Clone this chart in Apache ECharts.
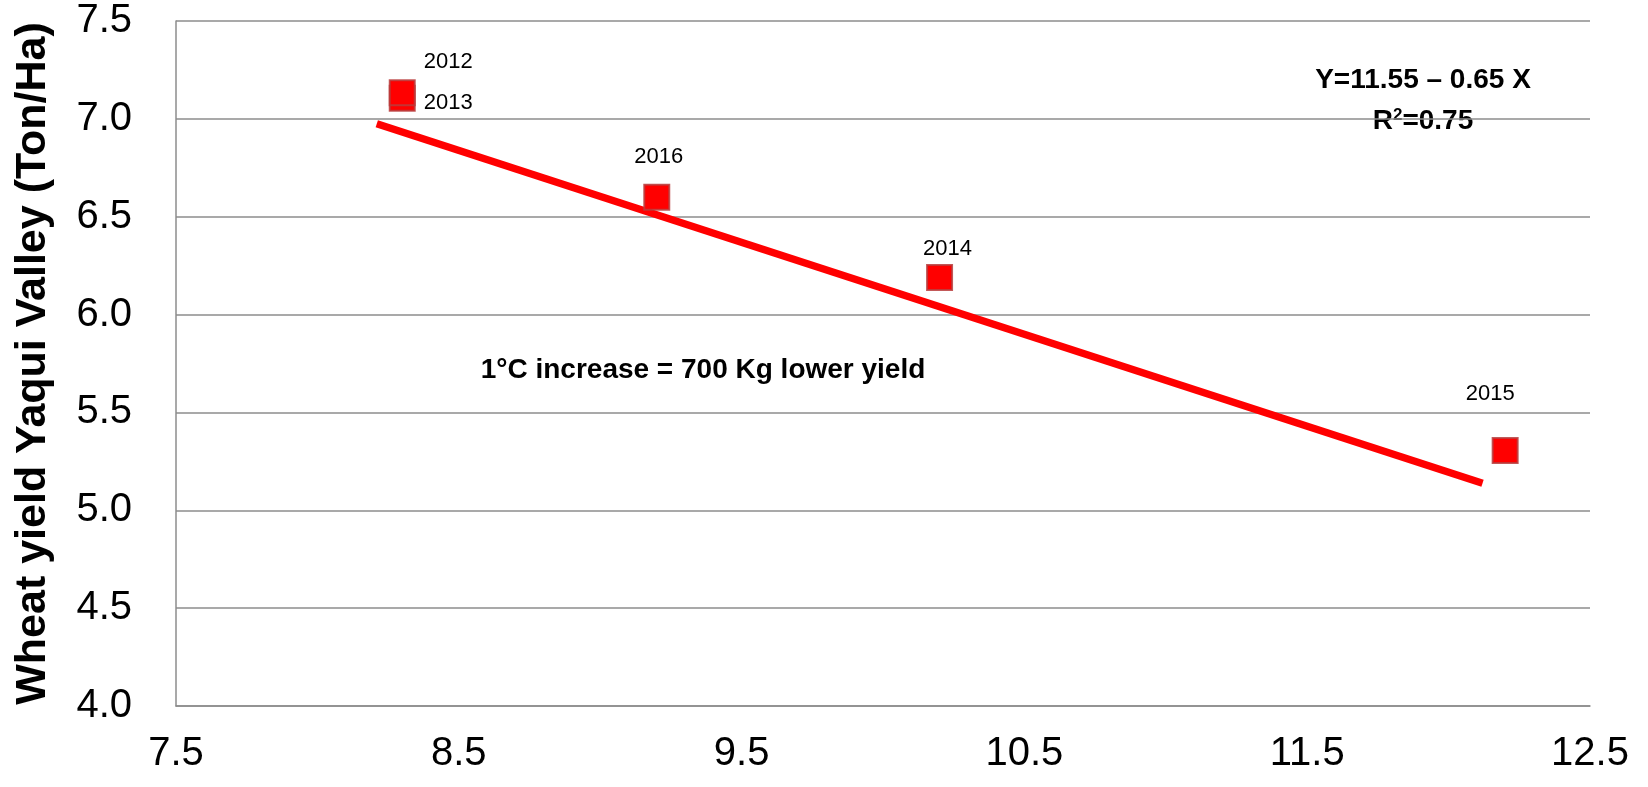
<!DOCTYPE html>
<html>
<head>
<meta charset="utf-8">
<script src="https://cdn.jsdelivr.net/npm/echarts@6/dist/echarts.min.js"></script>
<style>
html,body{margin:0;padding:0;background:#fff;}
#chart{width:1648px;height:787px;}
</style>
</head>
<body>
<div id="chart"></div>
<script>
// ---- data ----
const years = ['2013', '2012', '2016', '2014', '2015'];
const tempX = [8.30, 8.30, 9.20, 10.20, 12.20];
const yieldY = [7.105, 7.133, 6.60, 6.19, 5.305];
const trendX = [8.21, 12.12];
const trendY = [6.975, 5.138];
const xTicks = [7.5, 8.5, 9.5, 10.5, 11.5, 12.5];
const yTicks = [4.0, 4.5, 5.0, 5.5, 6.0, 6.5, 7.0, 7.5];
const yAxisTitle = 'Wheat yield Yaqui Valley (Ton/Ha)';
const equationText = 'Y=11.55 \u2013 0.65 X';
const r2Value = '0.75';
const noteText = '1\u00B0C increase = 700 Kg lower yield';

// ---- style (label placement per year) ----
const labelOffset = {
  '2012': [46, -31],
  '2013': [46, 5],
  '2016': [2, -40],
  '2014': [8, -28],
  '2015': [-15, -57]
};

const FONT = '"Liberation Sans", Arial, sans-serif';
const chart = echarts.init(document.getElementById('chart'), null, {renderer: 'canvas'});

const scatterData = years.map((yr, i) => ({
  value: [tempX[i], yieldY[i]],
  name: yr,
  label: {
    show: true,
    position: 'inside',
    offset: labelOffset[yr],
    formatter: yr,
    color: '#000',
    fontSize: 22,
    fontFamily: FONT
  }
}));

const option = {
  animation: false,
  backgroundColor: '#fff',
  grid: {left: 176, right: 58, top: 21, bottom: 81, containLabel: false, outerBoundsMode: 'none'},
  xAxis: {
    type: 'value',
    min: xTicks[0],
    max: xTicks[xTicks.length - 1],
    interval: 1,
    axisLine: {show: true, onZero: false, lineStyle: {color: '#8c8c8c', width: 1.5}},
    axisTick: {show: false},
    splitLine: {show: false},
    axisLabel: {
      customValues: xTicks,
      formatter: v => Number(v).toFixed(1),
      color: '#000',
      fontSize: 40,
      fontFamily: FONT,
      margin: 28
    }
  },
  yAxis: {
    type: 'value',
    min: yTicks[0],
    max: yTicks[yTicks.length - 1],
    interval: 0.5,
    name: yAxisTitle,
    nameLocation: 'middle',
    nameGap: 121,
    nameMoveOverlap: false,
    nameRotate: 90,
    nameTextStyle: {color: '#000', fontSize: 43, fontWeight: 'bold', fontFamily: FONT},
    axisLine: {show: true, onZero: false, lineStyle: {color: '#8c8c8c', width: 1.5}},
    axisTick: {show: false},
    splitLine: {show: true, lineStyle: {color: '#8c8c8c', width: 1.5}},
    axisLabel: {
      formatter: v => Number(v).toFixed(1),
      color: '#000',
      fontSize: 40,
      fontFamily: FONT,
      margin: 44
    }
  },
  series: [
    {
      type: 'line',
      data: trendX.map((x, i) => [x, trendY[i]]),
      showSymbol: false,
      symbol: 'none',
      lineStyle: {color: '#ff0000', width: 7.5, cap: 'butt'},
      z: 2,
      silent: true
    },
    {
      type: 'scatter',
      data: scatterData,
      symbol: 'rect',
      symbolSize: 25,
      itemStyle: {color: '#ff0000', borderColor: 'rgba(185,60,60,0.85)', borderWidth: 2, opacity: 1},
      z: 3
    }
  ],
  graphic: [
    {
      type: 'text',
      x: 1423, y: 80,
      style: {
        text: equationText,
        font: 'bold 28px ' + FONT,
        fill: '#000',
        align: 'center',
        verticalAlign: 'middle'
      }
    },
    {
      type: 'text',
      x: 1423, y: 121,
      style: {
        text: '{b|R}{s|2}{b|=' + r2Value + '}',
        fill: '#000',
        align: 'center',
        verticalAlign: 'middle',
        rich: {
          b: {font: 'bold 28px ' + FONT, fill: '#000', verticalAlign: 'bottom'},
          s: {font: 'bold 17px ' + FONT, fill: '#000', verticalAlign: 'top', padding: [0, 0, 12, 0]}
        }
      }
    },
    {
      type: 'text',
      x: 703, y: 370,
      style: {
        text: noteText,
        font: 'bold 28px ' + FONT,
        fill: '#000',
        align: 'center',
        verticalAlign: 'middle'
      }
    }
  ]
};
chart.setOption(option);
</script>
</body>
</html>
